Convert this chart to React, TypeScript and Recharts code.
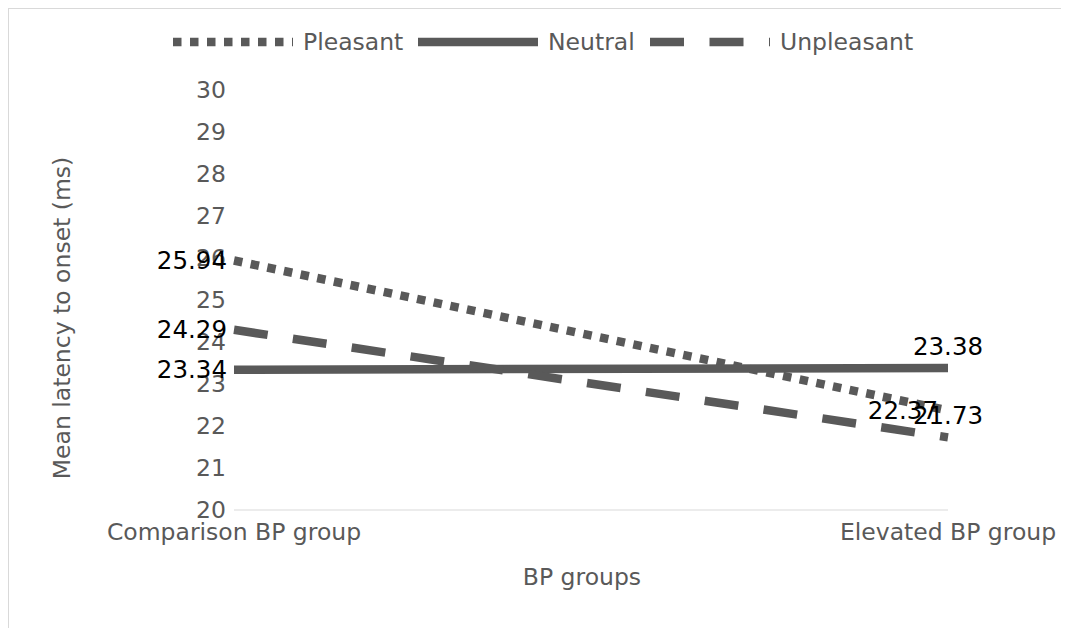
import React from 'react';
import { LineChart, Line, XAxis, YAxis, LabelList } from 'recharts';

const categories = ['Comparison BP group', 'Elevated BP group'];
const pleasant = [25.94, 22.37];
const neutral = [23.34, 23.38];
const unpleasant = [24.29, 21.73];
const yTicks = [20, 21, 22, 23, 24, 25, 26, 27, 28, 29, 30];

const rows = categories.map((group, i) => ({
  group,
  pleasant: pleasant[i],
  neutral: neutral[i],
  unpleasant: unpleasant[i],
}));

const FONT = '"DejaVu Sans", sans-serif';
const GRAY = '#595959';
const LINE = '#595959';
const W = 8.5;

// where each data label sits relative to its point: left of it or above it
type Place = 'left' | 'above';

const makeLabel = (places: Place[]) => (props: any) => {
  const { x, y, value, index } = props;
  const place = places[index];
  if (place === 'above') {
    return (
      <text x={x} y={y - 22} textAnchor="middle" dominantBaseline="central" fill="#000" fontSize={24.5} fontFamily={FONT}>
        {value}
      </text>
    );
  }
  const gap = index === 0 ? 7 : 10;
  return (
    <text x={x - gap} y={y} textAnchor="end" dominantBaseline="central" fill="#000" fontSize={24.5} fontFamily={FONT}>
      {value}
    </text>
  );
};

const legendItems = [
  { name: 'Pleasant', x: 173, dash: `${W} ${W}` },
  { name: 'Neutral', x: 418, dash: undefined },
  { name: 'Unpleasant', x: 650, dash: `${W * 4} ${W * 3}` },
];

export default function App() {
  return (
    <div
      style={{
        position: 'relative',
        width: 1060,
        height: 619,
        borderLeft: '1px solid #d9d9d9',
        borderTop: '1px solid #d9d9d9',
        fontFamily: FONT,
      }}
    >
      <LineChart width={1060} height={619} data={rows} margin={{ top: 81, right: 121, bottom: 88, left: 165 }}>
        <XAxis
          dataKey="group"
          padding={{ left: 0, right: 0 }}
          tickLine={false}
          axisLine={{ stroke: '#d9d9d9', strokeWidth: 1 }}
          tickMargin={7}
          height={30}
          tick={{ fill: GRAY, fontSize: 23.5, fontFamily: FONT }}
        />
        <YAxis
          domain={[20, 30]}
          ticks={yTicks}
          interval={0}
          width={60}
          tickLine={false}
          axisLine={false}
          tick={{ fill: GRAY, fontSize: 23.5, fontFamily: FONT }}
        />
        <Line dataKey="pleasant" stroke={LINE} strokeWidth={W} strokeDasharray={`${W} ${W}`} dot={false} isAnimationActive={false}>
          <LabelList dataKey="pleasant" content={makeLabel(['left', 'left'])} />
        </Line>
        <Line dataKey="neutral" stroke={LINE} strokeWidth={W} dot={false} isAnimationActive={false}>
          <LabelList dataKey="neutral" content={makeLabel(['left', 'above'])} />
        </Line>
        <Line dataKey="unpleasant" stroke={LINE} strokeWidth={W} strokeDasharray={`${W * 4} ${W * 3}`} dot={false} isAnimationActive={false}>
          <LabelList dataKey="unpleasant" content={makeLabel(['left', 'above'])} />
        </Line>
      </LineChart>
      <svg width={1060} height={619} style={{ position: 'absolute', left: 0, top: 0, pointerEvents: 'none' }}>
        <g transform="translate(-9,-9)">
          {legendItems.map((it) => (
            <g key={it.name}>
              <line x1={it.x} x2={it.x + 120} y1={42} y2={42} stroke={LINE} strokeWidth={W} strokeDasharray={it.dash} />
              <text x={it.x + 130} y={42} dominantBaseline="central" fill={GRAY} fontSize={23.5} fontFamily={FONT}>
                {it.name}
              </text>
            </g>
          ))}
          <text x={582} y={585} textAnchor="middle" fill={GRAY} fontSize={23.5} fontFamily={FONT}>
            BP groups
          </text>
          <text
            x={0}
            y={0}
            transform="translate(70,318) rotate(-90)"
            textAnchor="middle"
            fill={GRAY}
            fontSize={23.5}
            fontFamily={FONT}
          >
            Mean latency to onset (ms)
          </text>
        </g>
      </svg>
    </div>
  );
}
